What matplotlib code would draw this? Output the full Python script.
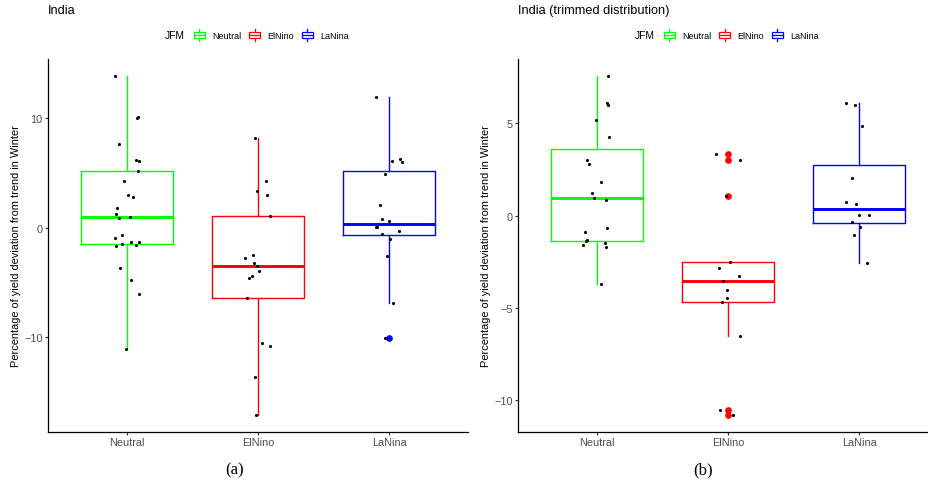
import matplotlib
matplotlib.use("Agg")
import matplotlib.pyplot as plt
import numpy as np
from matplotlib.legend_handler import HandlerBase
from matplotlib.patches import Rectangle
from matplotlib.lines import Line2D

plt.rcParams['font.family'] = ['Liberation Sans', 'DejaVu Sans']

categories = ["Neutral", "ElNino", "LaNina"]
colors = ["#00FF00", "#FF0000", "#0000FF"]
legend_title = "JFM"
titles = ["India", "India (trimmed distribution)"]
ylabel = "Percentage of yield deviation from trend in Winter"
captions = ["(a)", "(b)"]
a_yticks = [-10, 0, 10]
b_yticks = [-10, -5, 0, 5]

# Panel (a): full distribution
a_neutral = [13.85, 10.10, 10.00, 7.60, 6.17, 6.04, 5.19, 4.27, 3.02, 2.84, 1.83, 1.22, 0.86, 0.95,
             -0.67, -0.91, -1.67, -1.49, -1.34, -1.58, -1.34, -3.69, -4.79, -6.07, -11.07]
a_neutral_jit = [-0.089, 0.087, 0.081, -0.056, 0.069, 0.094, 0.089, -0.023, 0.008, 0.046, -0.074, -0.081,
                 -0.056, 0.023, -0.033, -0.092, -0.079, -0.038, 0.033, 0.071, 0.094, -0.053, 0.033, 0.092, -0.003]
a_elnino = [8.18, 4.27, 3.36, 3.02, 1.04, -2.77, -2.50, -3.23, -3.50, -3.96, -4.42, -4.60, -6.46,
            -10.49, -10.80, -13.66, -17.11]
a_elnino_jit = [-0.025, 0.061, -0.008, 0.069, 0.092, -0.099, -0.036, -0.033, -0.005, 0.010, -0.048,
                -0.071, -0.087, 0.031, 0.092, -0.023, -0.015]
a_lanina = [11.93, 6.10, 6.29, 5.98, 4.88, 2.08, 0.77, 0.61, 0.03, 0.02, -0.30, -0.58, -1.06, -2.56,
            -6.92, -10.12]
a_lanina_jit = [-0.099, 0.018, 0.079, 0.094, -0.031, -0.074, -0.059, 0.0, -0.099, -0.095, 0.076, -0.053,
                0.005, -0.018, 0.025, -0.036]

# Panel (b): trimmed distribution
b_neutral = [7.56, 6.09, 6.00, 5.17, 4.23, 3.00, 2.79, 1.83, 1.21, 0.94, 0.85, -0.70, -0.92, -1.37,
             -1.35, -1.61, -1.50, -1.73, -3.72]
b_neutral_jit = [0.089, 0.076, 0.087, -0.003, 0.092, -0.076, -0.056, 0.031, -0.036, -0.023, 0.069, 0.081,
                 -0.092, -0.081, -0.078, -0.102, 0.064, 0.071, 0.031]
b_elnino = [3.31, 2.98, 1.03, -2.53, -2.82, -3.29, -3.56, -4.01, -4.46, -4.66, -6.52, -10.54, -10.81]
b_elnino_jit = [-0.094, 0.092, -0.018, 0.013, -0.069, 0.087, -0.041, -0.008, -0.005, -0.048, 0.089,
                -0.059, 0.041]
b_lanina = [6.07, 5.99, 4.85, 2.04, 0.74, 0.62, 0.05, 0.02, -0.36, -0.60, -1.05, -2.57]
b_lanina_jit = [-0.099, -0.033, 0.018, -0.059, -0.099, -0.023, -0.005, 0.074, -0.056, 0.005, -0.038, 0.061]

W, H = 929, 485
fig = plt.figure(figsize=(W / 100, H / 100), dpi=100)
fig.patch.set_facecolor("white")


class BoxKeyHandler(HandlerBase):
    def create_artists(self, legend, orig_handle, xdescent, ydescent, width, height, fontsize, trans):
        c = orig_handle.get_color()
        x0, y0 = -xdescent, -ydescent
        xm = x0 + width / 2
        h = 1.35 * fontsize
        yc = y0 + height / 2
        yb, yt = yc - h / 2, yc + h / 2
        lw = 0.9
        arts = [
            Line2D([xm, xm], [yb, yb + 0.22 * h], color=c, lw=lw, transform=trans),
            Line2D([xm, xm], [yb + 0.78 * h, yt], color=c, lw=lw, transform=trans),
            Rectangle((x0 + 0.04 * width, yb + 0.22 * h), 0.92 * width, 0.56 * h,
                      fill=False, ec=c, lw=lw, transform=trans),
            Line2D([x0 + 0.04 * width, x0 + 0.96 * width], [yc, yc],
                   color=c, lw=lw, transform=trans),
        ]
        return arts


def draw_panel(left_px, groups, jits, yticks, title, caption, cap_x):
    ax = fig.add_axes([left_px / W, 52 / H, 420 / W, 373 / H])
    pos = np.arange(1, len(categories) + 1)
    for i, (vals, col) in enumerate(zip(groups, colors)):
        ax.boxplot([vals], positions=[pos[i]], widths=0.7, whis=1.5, showcaps=False,
                   boxprops=dict(color=col, lw=1.0),
                   whiskerprops=dict(color=col, lw=1.0),
                   medianprops=dict(color=col, lw=2.1),
                   flierprops=dict(marker='o', markerfacecolor=col, markeredgecolor=col,
                                   markersize=3.8),
                   zorder=2, manage_ticks=False)
    for i, (vals, jit) in enumerate(zip(groups, jits)):
        ax.scatter(pos[i] + np.array(jit), vals, s=5.0, color="black", zorder=3, linewidths=0)
    allv = np.concatenate([np.array(g) for g in groups])
    lo, hi = allv.min(), allv.max()
    pad = 0.05 * (hi - lo)
    ax.set_ylim(lo - pad, hi + pad)
    ax.set_xlim(0.4, len(categories) + 0.6)
    ax.set_xticks(pos)
    ax.set_xticklabels(categories)
    ax.set_yticks(yticks)
    for s in ["top", "right"]:
        ax.spines[s].set_visible(False)
    for s in ["left", "bottom"]:
        ax.spines[s].set_linewidth(0.9)
        ax.spines[s].set_color("black")
    ax.tick_params(axis='both', length=2.3, width=0.8, color="#333333", labelcolor="#4D4D4D",
                   labelsize=7.8, pad=1.5)
    ax.set_ylabel(ylabel, fontsize=7.9, color="black", va='center')
    ax.yaxis.set_label_coords(-32 / 420, 0.5)
    fig.text(left_px / W, 1 - 11 / H, title, fontsize=9.2, ha='left', va='center')
    fig.text((left_px + 117) / W, 1 - 36 / H, legend_title, fontsize=7.4, ha='left', va='center')
    handles = [Line2D([], [], color=c) for c in colors]
    fig.legend(handles, categories, handler_map={Line2D: BoxKeyHandler()},
               loc='center left', bbox_to_anchor=((left_px + 145) / W, 1 - 36 / H),
               ncol=3, frameon=False, fontsize=6.5, handlelength=1.4, handleheight=1.4,
               handletextpad=0.75, columnspacing=0.75, borderpad=0, borderaxespad=0)
    fig.text(cap_x / W, 1 - 470 / H, caption, fontsize=12, ha='center', va='center',
             family=['Liberation Serif', 'DejaVu Serif'])
    return ax


draw_panel(48, [a_neutral, a_elnino, a_lanina], [a_neutral_jit, a_elnino_jit, a_lanina_jit],
           a_yticks, titles[0], captions[0], 235)
draw_panel(518, [b_neutral, b_elnino, b_lanina], [b_neutral_jit, b_elnino_jit, b_lanina_jit],
           b_yticks, titles[1], captions[1], 703)

fig.savefig("out.png", dpi=100)
